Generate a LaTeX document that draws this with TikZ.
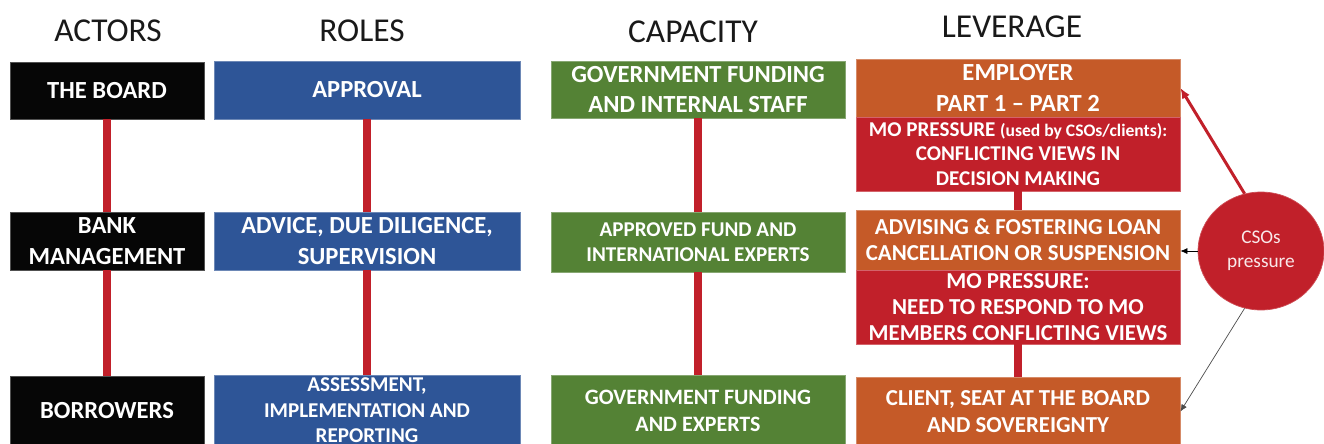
\documentclass[tikz,border=0pt]{standalone}
\usepackage{fontspec}
\setmainfont{Carlito}
\usetikzlibrary{shapes.geometric,arrows.meta}

\definecolor{actorblack}{HTML}{060606}
\definecolor{roleblue}{HTML}{2E5597}
\definecolor{capgreen}{HTML}{548235}
\definecolor{levorange}{HTML}{C55A28}
\definecolor{mored}{HTML}{C1202A}

\begin{document}
\begin{tikzpicture}[x=0.02cm,y=-0.02cm,
    header/.style={font=\fontsize{19}{22}\selectfont,text=black!90},
    box/.style={rectangle,fill=#1,draw=#1!70!white,line width=0.5pt,text=white,
      align=center,inner sep=0pt,font=\bfseries\fontsize{14}{17.5}\selectfont},
    small/.style={font=\bfseries\fontsize{12}{14.5}\selectfont},
    actorbox/.style={box=actorblack,minimum width=3.88cm},
    rolebox/.style={box=roleblue,minimum width=6.12cm},
    capbox/.style={box=capgreen,minimum width=5.88cm},
    levbox/.style={box=levorange,minimum width=6.48cm},
    mobox/.style={box=mored,minimum width=6.48cm},
    link/.style={draw=mored,line width=0.16cm}]
        % Rogzitjuk a kep meretet es levagjuk az also sort
        \useasboundingbox (0,0) rectangle (1324,443);
        \clip (0,0) rectangle (1324,443);
        % Oszlopfejlecek
        \node[header] (hactors) at (108,31) {ACTORS};
        \node[header] (hroles) at (362,31) {ROLES};
        \node[header] (hcap) at (693,32) {CAPACITY};
        \node[header] (hlev) at (1012,27) {LEVERAGE};
        % Szereplok
        \node[actorbox,minimum height=1.14cm] (board) at (107,90.5) {THE BOARD};
        \node[actorbox,minimum height=1.16cm] (mgmt) at (107,241) {BANK\\MANAGEMENT};
        \node[actorbox,minimum height=1.4cm] (borrow) at (107,411) {BORROWERS};
        % Szerepek
        \node[rolebox,minimum height=1.16cm] (approv) at (367,90) {APPROVAL};
        \node[rolebox,minimum height=1.16cm] (advice) at (367,241) {ADVICE, DUE DILIGENCE,\\SUPERVISION};
        \node[rolebox,small,minimum height=1.42cm] (assess) at (367,410.5) {ASSESSMENT,\\IMPLEMENTATION AND\\REPORTING};
        % Kapacitas
        \node[capbox,minimum height=1.14cm] (govstaff) at (698,89.5) {GOVERNMENT FUNDING\\AND INTERNAL STAFF};
        \node[capbox,small,minimum height=1.2cm] (approved) at (698,242) {APPROVED FUND AND\\INTERNATIONAL EXPERTS};
        \node[capbox,minimum height=1.42cm,font=\bfseries\fontsize{12.5}{15.5}\selectfont] (govexp) at (698,410.5) {GOVERNMENT FUNDING\\AND EXPERTS};
        % Mozgasteer
        \node[levbox,minimum height=1.16cm] (employer) at (1018,88) {EMPLOYER\\PART 1 – PART 2};
        \node[mobox,small,minimum height=1.48cm,font=\bfseries\fontsize{12}{13.8}\selectfont] (mo1) at (1018,154)
            {MO PRESSURE {\fontsize{10}{13}\selectfont(used by CSOs/clients):}\\CONFLICTING VIEWS IN\\DECISION MAKING};
        \node[levbox,minimum height=1.2cm,font=\bfseries\fontsize{13}{15}\selectfont] (advise) at (1018,240)
            {ADVISING \& FOSTERING LOAN\\CANCELLATION OR SUSPENSION};
        \node[mobox,minimum height=1.48cm,font=\bfseries\fontsize{13}{15}\selectfont] (mo2) at (1018,307)
            {MO PRESSURE:\\NEED TO RESPOND TO MO\\MEMBERS CONFLICTING VIEWS};
        \node[levbox,minimum height=1.38cm,font=\bfseries\fontsize{13}{15.5}\selectfont] (client) at (1018,411.5)
            {CLIENT, SEAT AT THE BOARD\\AND SOVEREIGNTY};
        % Piros osszekotok
        \draw[link] (board) -- (mgmt);
        \draw[link] (mgmt) -- (borrow);
        \draw[link] (approv) -- (advice);
        \draw[link] (advice) -- (assess);
        \draw[link] (govstaff) -- (approved);
        \draw[link] (approved) -- (govexp);
        \draw[link] (mo1) -- (advise);
        \draw[link] (mo2) -- (client);
        % CSO nyomas es a nyilak
        \node[ellipse,fill=mored,draw=mored!80!white,minimum width=2.52cm,minimum height=2.36cm,
            text=white!90!mored,align=center,font=\fontsize{11}{13.7}\selectfont] (cso) at (1261,251) {CSOs\\pressure};
        \draw[-{Latex[length=6pt,width=5pt]},mored,line width=0.06cm] (cso.106) -- (employer.east);
        \draw[-{Latex[length=4pt,width=3.5pt]},black] (cso.west) -- (cso.west -| advise.east);
        \draw[-{Latex[length=4pt,width=3.5pt]},black!70,line width=0.4pt] (cso.-106) -- (client.east);
    \end{tikzpicture}
\end{document}
